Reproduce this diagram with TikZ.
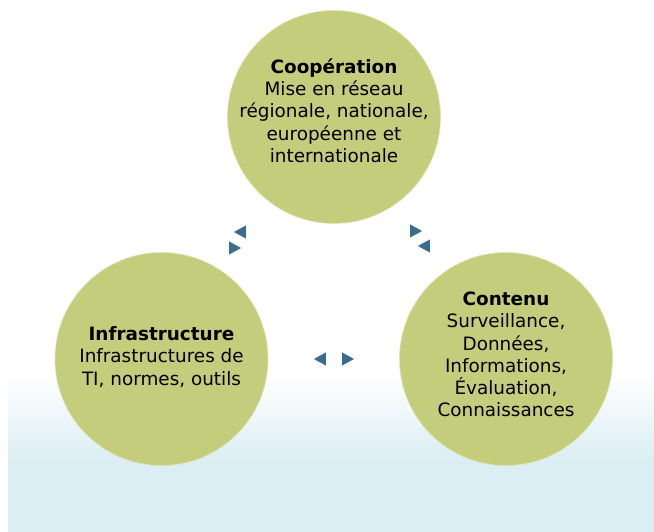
\documentclass[tikz,border=0pt]{standalone}
\usepackage{fontspec}
\setmainfont{DejaVu Sans}
\usepackage{tikz}
\usetikzlibrary{shapes.geometric, positioning}

\definecolor{bubblegreen}{RGB}{196,205,123}
\definecolor{bubbleedge}{RGB}{222,228,180}
\definecolor{tipblue}{RGB}{59,108,143}
\definecolor{bgblue}{RGB}{219,238,243}

\tikzset{
	bubble/.style={circle, fill=bubblegreen, draw=bubbleedge, line width=0.7pt, dash pattern=on 14pt off 3pt, minimum size=213pt, inner sep=0pt},
	bubbletext/.style={align=center, font=\fontsize{18.4}{22.3}\selectfont, inner sep=0pt},
	tipmark/.style={isosceles triangle, isosceles triangle stretches, fill=tipblue, minimum width=13pt, minimum height=12pt, inner sep=0pt}
}

\begin{document}
\begin{tikzpicture}[x=1pt, y=-1pt]
				\useasboundingbox (0,0) rectangle (654,532);
				
				% background band
				\shade[top color=white, bottom color=bgblue] (8,373) rectangle (654,460);
				\fill[bgblue] (8,459.5) rectangle (654,532);
				
				% % % % % % % % % % % % % % % % % % % % % % % % % %
				
				\node[bubble] (coop) at (334,117) {};
				\node[bubble] (infra) at (161.5,359) {};
				\node[bubble] (contenu) at (506,359) {};
				
				\node[bubbletext] (cooptxt) at ([yshift=6.5]coop.center) {\textbf{Coopération}\\Mise en réseau\\régionale, nationale,\\européenne et\\internationale};
				\node[bubbletext] (infratxt) at ([yshift=2]infra.center) {\textbf{Infrastructure}\\Infrastructures de\\TI, normes, outils};
				\node[bubbletext] (contenutxt) at ([yshift=4.5]contenu.center) {\textbf{Contenu}\\ Surveillance,\\Données,\\Informations,\\Évaluation,\\Connaissances};
				
				% % % % % % % % % % % % % % % % % % % % % % % % % %
				
				\node[tipmark, shape border rotate=180] (tipa) at (242,232) {};
				\node[tipmark] (tipb) at (233,248) {};
				\node[tipmark] (tipc) at (414,231) {};
				\node[tipmark, shape border rotate=184] (tipd) at (426,246) {};
				\node[tipmark, shape border rotate=180] (tipe) at (322,359) {};
				\node[tipmark] (tipf) at (346,359) {};
				\end{tikzpicture}
\end{document}
